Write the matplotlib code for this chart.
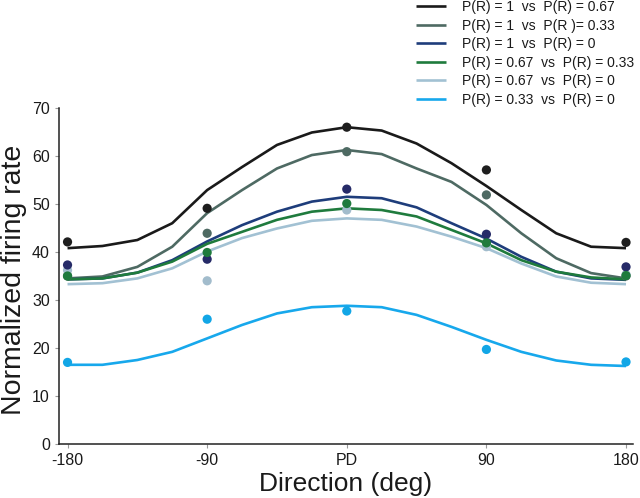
import matplotlib
matplotlib.use("Agg")
import matplotlib.pyplot as plt

plt.rcParams['font.family'] = ['Liberation Sans', 'DejaVu Sans']

# ---- data ----
curve_dirs = [-180, -157.5, -135, -112.5, -90, -67.5, -45, -22.5, 0,
              22.5, 45, 67.5, 90, 112.5, 135, 157.5, 180]
point_dirs = [-180, -90, 0, 90, 180]
tick_labels = ['-180', '-90', 'PD', '90', '180']

labels = ['P(R) = 1  vs  P(R) = 0.67',
          'P(R) = 1  vs  P(R )= 0.33',
          'P(R) = 1  vs  P(R) = 0',
          'P(R) = 0.67  vs  P(R) = 0.33',
          'P(R) = 0.67  vs  P(R) = 0',
          'P(R) = 0.33  vs  P(R) = 0']

curve_black = [40.8, 41.25, 42.5, 46.0, 52.9, 57.7, 62.3, 64.9, 66.0,
               65.3, 62.6, 58.5, 53.75, 48.75, 43.9, 41.1, 40.8]
curve_gray = [34.5, 34.9, 36.9, 41.1, 48.1, 52.9, 57.4, 60.2, 61.25,
              60.4, 57.4, 54.6, 49.8, 43.9, 38.7, 35.6, 34.5]
curve_navy = [34.3, 34.5, 35.7, 38.3, 42.2, 45.6, 48.4, 50.5, 51.5,
              51.2, 49.3, 46.0, 42.8, 39.0, 35.9, 34.5, 34.2]
curve_green = [34.3, 34.5, 35.7, 38.0, 41.7, 44.2, 46.7, 48.4, 49.1,
               48.75, 47.4, 44.6, 41.8, 38.3, 35.9, 34.7, 34.3]
curve_light = [33.3, 33.5, 34.5, 36.6, 40.1, 42.9, 44.9, 46.5, 47.0,
               46.7, 45.3, 43.2, 40.8, 37.6, 34.9, 33.6, 33.3]
curve_cyan = [16.5, 16.5, 17.5, 19.2, 22.0, 24.8, 27.2, 28.5, 28.8,
              28.5, 26.9, 24.4, 21.7, 19.2, 17.4, 16.5, 16.25]

pts_black = [42.1, 49.1, 66.0, 57.1, 42.0]
pts_gray = [35.0, 43.9, 60.9, 51.9, 35.0]
pts_navy = [37.3, 38.5, 53.1, 43.7, 36.9]
pts_green = [35.0, 39.9, 50.1, 41.9, 35.1]
pts_light = [36.2, 34.0, 48.75, 41.1, 35.3]
pts_cyan = [17.0, 26.0, 27.7, 19.7, 17.1]

line_colors = ['#1a1a1a', '#4e6a63', '#1e3d7b', '#1f7b3d', '#a2c1d3', '#17a8ec']
point_colors = ['#1e1e1e', '#4e6a63', '#262b68', '#1f7b3d', '#a2bccc', '#12a6e6']

curves = [curve_black, curve_gray, curve_navy, curve_green, curve_light, curve_cyan]
points = [pts_black, pts_gray, pts_navy, pts_green, pts_light, pts_cyan]

# ---- figure ----
fig = plt.figure(figsize=(6.4, 4.98), dpi=100)
ax = fig.add_axes([59/640, 54/498, (633-59)/640, 336/498])

handles = []
for c, col, lab in zip(curves, line_colors, labels):
    h, = ax.plot(curve_dirs, c, color=col, lw=1.9, label=lab, zorder=2,
                 solid_capstyle='butt', solid_joinstyle='round')
    handles.append(h)

# points drawn in an order that matches the overlap in the reference
for idx in [0, 1, 4, 2, 3, 5]:
    ax.scatter(point_dirs, points[idx], s=44, color=point_colors[idx],
               edgecolors='none', zorder=3)

ax.set_xlim(-185.5, 184.5)
ax.set_ylim(0, 70)
ax.set_xticks(point_dirs)
ax.set_xticklabels(tick_labels)
ax.set_yticks(range(0, 71, 10))

for s in ['top', 'right']:
    ax.spines[s].set_visible(False)
for s in ['left', 'bottom']:
    ax.spines[s].set_color('#222222')
    ax.spines[s].set_linewidth(1.1)

ax.tick_params(axis='both', which='major', labelsize=11.5, length=3,
               width=0.8, color='#999999', pad=3.5, labelcolor='#1a1a1a')

fig.text(14/640, 1 - 280/498, 'Normalized firing rate', rotation=90,
         ha='center', va='center', fontsize=20.5, color='#1a1a1a')
fig.text(346/640, 1 - 484/498, 'Direction (deg)', ha='center',
         va='center', fontsize=19, color='#1a1a1a')

leg = fig.legend(handles=handles, labels=labels, loc='upper left',
                 bbox_to_anchor=(416/640, 1.0), bbox_transform=fig.transFigure,
                 frameon=False, fontsize=10, handlelength=2.15,
                 handletextpad=1.15, labelspacing=0.33, borderpad=0,
                 borderaxespad=0)
for t in leg.get_texts():
    t.set_color('#1a1a1a')

fig.savefig('out.png', dpi=100)
